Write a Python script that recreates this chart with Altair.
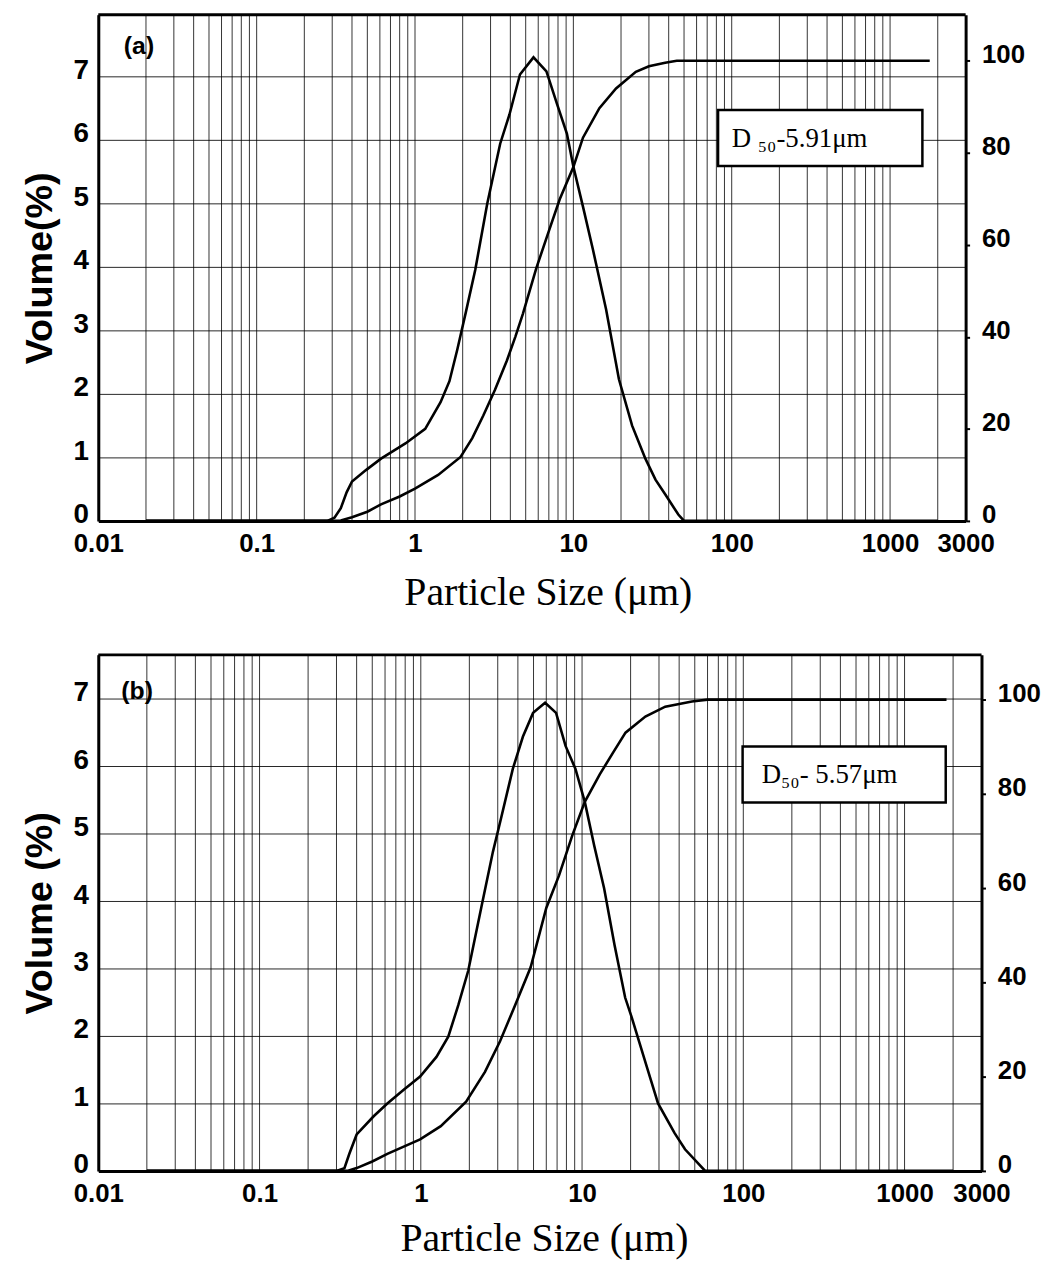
import altair as alt
import pandas as pd

# ---------------- data ----------------
# panel (a) : frequency curve (Volume %, left axis)
size_freq_a = [0.02, 0.1, 0.28, 0.31, 0.34, 0.37, 0.40, 0.49, 0.61, 0.87, 1.16, 1.45, 1.65,
               1.85, 2.1, 2.4, 2.86, 3.45, 3.95, 4.6, 5.6, 6.76, 7.9, 9.1, 10.0, 11.5, 13.3,
               16.1, 19.4, 23.5, 28.5, 33.0, 38.0, 46.0, 50.0, 100.0, 2000.0]
freq_a = [0, 0, 0, 0.05, 0.2, 0.45, 0.62, 0.8, 0.98, 1.22, 1.45, 1.87, 2.2,
          2.7, 3.3, 3.95, 5.0, 5.94, 6.4, 7.03, 7.3, 7.08, 6.56, 6.1, 5.58, 4.95, 4.27,
          3.33, 2.23, 1.5, 0.98, 0.65, 0.42, 0.1, 0, 0, 0]
# panel (a) : cumulative curve (right axis)
size_cum_a = [0.02, 0.3, 0.34, 0.4, 0.5, 0.61, 0.8, 1.0, 1.4, 1.94, 2.3, 2.7, 3.2, 3.8, 4.3,
              4.8, 5.83, 7.0, 8.2, 10.0, 11.5, 14.6, 18.6, 24.8, 30.0, 38.0, 45.0, 1780.0]
cum_a = [0, 0, 0.1, 0.8, 2.0, 3.6, 5.3, 7.0, 10.0, 13.9, 18.0, 22.9, 28.5, 34.8, 40.0,
         45.0, 54.9, 63.0, 69.9, 76.9, 83.3, 89.7, 94.0, 97.6, 98.8, 99.6, 100, 100]

# panel (b) : frequency curve
size_freq_b = [0.02, 0.1, 0.3, 0.336, 0.36, 0.40, 0.51, 0.62, 0.78, 0.99, 1.25, 1.48, 1.71,
               1.97, 2.37, 2.80, 3.14, 3.72, 4.30, 4.97, 5.9, 6.9, 7.9, 9.1, 10.4, 11.9, 13.7,
               15.9, 18.5, 20.3, 26.0, 29.6, 37.5, 43.5, 53.0, 58.0, 100.0, 2000.0]
freq_b = [0, 0, 0, 0.04, 0.25, 0.54, 0.81, 1.0, 1.2, 1.4, 1.69, 1.99, 2.46,
          2.97, 3.9, 4.73, 5.22, 5.96, 6.44, 6.79, 6.94, 6.79, 6.3, 5.96, 5.47, 4.82, 4.19,
          3.35, 2.57, 2.28, 1.44, 1.0, 0.56, 0.32, 0.1, 0, 0, 0]
# panel (b) : cumulative curve
size_cum_b = [0.02, 0.35, 0.40, 0.5, 0.62, 0.99, 1.33, 1.91, 2.5, 3.1, 3.85, 4.8, 6.0, 7.2,
              8.7, 10.4, 12.9, 15.6, 18.6, 24.7, 32.8, 48.0, 60.0, 1820.0]
cum_b = [0, 0, 0.6, 2.0, 3.6, 6.7, 9.5, 14.7, 21.0, 27.5, 35.2, 43.2, 55.8, 62.7,
         71.2, 78.3, 84.2, 88.8, 93.0, 96.4, 98.5, 99.6, 100, 100]

# axis ticks / grid
x_tick_values = [0.01, 0.1, 1, 10, 100, 1000, 3000]
grid_sizes = [0.01, 0.02, 0.03, 0.04, 0.05, 0.06, 0.07, 0.08, 0.09,
              0.1, 0.2, 0.3, 0.4, 0.5, 0.6, 0.7, 0.8, 0.9,
              1, 2, 3, 4, 5, 6, 7, 8, 9,
              10, 20, 30, 40, 50, 60, 70, 80, 90,
              100, 200, 300, 400, 500, 600, 700, 800, 900,
              1000, 2000]
left_ticks = [0, 1, 2, 3, 4, 5, 6, 7]
right_ticks = [0, 20, 40, 60, 80, 100]

# annotations (in data coordinates)
label_a = {"x": 0.0145, "y": 7.47, "t": "(a)"}
label_b = {"x": 0.0139, "y": 7.12, "t": "(b)"}
box_a = {"x0": 82.0, "x1": 1600.0, "y0": 5.59, "y1": 6.47, "tx": 100.0, "ty": 6.02,
         "t": "D \u2085\u2080-5.91\u03bcm"}
box_b = {"x0": 99.0, "x1": 1800.0, "y0": 5.46, "y1": 6.29, "tx": 130.0, "ty": 5.87,
         "t": "D\u2085\u2080- 5.57\u03bcm"}

SANS = "Liberation Sans"
SERIF = "Liberation Serif"


def panel(fs, fv, cs, cv, width, height, ymax_l, ymax_r, ytitle, lab, box, title_x, title_y):
    xscale = alt.Scale(type="log", domain=[0.01, 3000], nice=False)
    xaxis = alt.Axis(values=x_tick_values, format="~g", grid=False, ticks=False,
                     domain=True, domainColor="black", domainWidth=3,
                     labelFont=SANS, labelFontSize=26, labelFontWeight="bold", labelColor="black",
                     labelPadding=10, labelFlush=False, labelOverlap=False,
                     title="Particle Size (\u03bcm)", titleFont=SERIF, titleFontSize=40,
                     titleFontWeight="normal", titleColor="black",
                     titleX=title_x, titleY=title_y, titleAlign="center",
                     titleBaseline="alphabetic")
    yscale_l = alt.Scale(domain=[0, ymax_l], nice=False, zero=True)
    yaxis_l = alt.Axis(values=left_ticks, grid=True, gridColor="black", gridWidth=1,
                       gridOpacity=0.85, ticks=False,
                       domain=True, domainColor="black", domainWidth=3,
                       labelFont=SANS, labelFontSize=28, labelFontWeight="bold",
                       labelColor="black", labelPadding=10, labelOffset=-6,
                       title=ytitle, titleFont=SANS, titleFontSize=38, titleFontWeight="bold",
                       titleColor="black", titlePadding=14)
    yscale_r = alt.Scale(domain=[0, ymax_r], nice=False, zero=True)
    yaxis_r = alt.Axis(orient="right", values=right_ticks, grid=False, ticks=True, tickSize=4,
                       tickWidth=2, tickColor="black",
                       domain=True, domainColor="black", domainWidth=3,
                       labelFont=SANS, labelFontSize=26, labelFontWeight="bold",
                       labelColor="black", labelPadding=12, labelOffset=-6, title=None)

    vgrid = alt.Chart(pd.DataFrame({"g": grid_sizes})).mark_rule(
        color="black", strokeWidth=1, opacity=0.8
    ).encode(x=alt.X("g:Q", scale=xscale, axis=xaxis))

    top_edge = alt.Chart(pd.DataFrame({"top": [ymax_l]})).mark_rule(
        color="black", strokeWidth=3
    ).encode(y=alt.Y("top:Q", scale=yscale_l, axis=yaxis_l))

    freq_line = alt.Chart(pd.DataFrame({"size": fs, "freq": fv})).mark_line(
        color="black", strokeWidth=2.6
    ).encode(
        x=alt.X("size:Q", scale=xscale, axis=xaxis),
        y=alt.Y("freq:Q", scale=yscale_l, axis=yaxis_l),
    )

    box_df = pd.DataFrame([box])
    rect = alt.Chart(box_df).mark_rect(fill="white", stroke="black", strokeWidth=2.5).encode(
        x=alt.X("x0:Q", scale=xscale, axis=xaxis), x2="x1:Q",
        y=alt.Y("y0:Q", scale=yscale_l, axis=yaxis_l), y2="y1:Q",
    )
    rtext = alt.Chart(box_df).mark_text(
        align="left", baseline="middle", font=SERIF, fontSize=27, color="black"
    ).encode(
        x=alt.X("tx:Q", scale=xscale, axis=xaxis),
        y=alt.Y("ty:Q", scale=yscale_l, axis=yaxis_l),
        text="t:N",
    )
    ltext = alt.Chart(pd.DataFrame([lab])).mark_text(
        align="left", baseline="middle", font=SANS, fontSize=25, fontWeight="bold", color="black"
    ).encode(
        x=alt.X("x:Q", scale=xscale, axis=xaxis),
        y=alt.Y("y:Q", scale=yscale_l, axis=yaxis_l),
        text="t:N",
    )
    left = alt.layer(vgrid, top_edge, freq_line, rect, rtext, ltext)

    right = alt.Chart(pd.DataFrame({"size": cs, "cum": cv})).mark_line(
        color="black", strokeWidth=2.6
    ).encode(
        x=alt.X("size:Q", scale=xscale, axis=xaxis),
        y=alt.Y("cum:Q", scale=yscale_r, axis=yaxis_r),
    )
    return alt.layer(left, right).resolve_scale(y="independent").properties(
        width=width, height=height
    )


pa = panel(size_freq_a, freq_a, size_cum_a, cum_a, 874, 510, 7.97, 110.0,
           "Volume(%)", label_a, box_a, 453, 84)
pb = panel(size_freq_b, freq_b, size_cum_b, cum_b, 890, 520, 7.65, 109.5,
           "Volume (%)", label_b, box_b, 449, 80)

chart = alt.vconcat(pa, pb, spacing=135, bounds="flush").properties(
    padding={"left": 12, "top": 0, "right": 5, "bottom": 5}
).configure_view(stroke="black", strokeWidth=3, strokeOpacity=1).configure(background="white")

chart.save("out.html", embed_options={"renderer": "svg", "actions": False})
